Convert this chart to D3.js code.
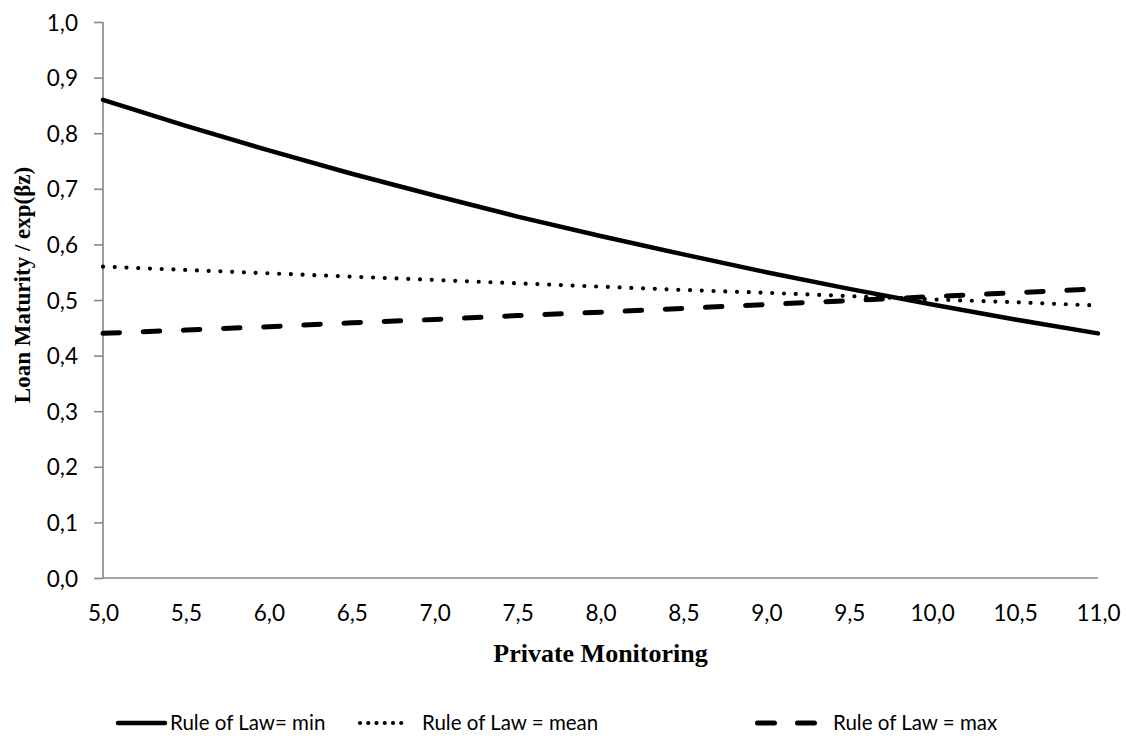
<!DOCTYPE html>
<html>
<head>
<meta charset="utf-8">
<script src="https://cdn.jsdelivr.net/npm/d3@7"></script>
<style>
  html, body { margin: 0; padding: 0; background: #fff; }
  svg { display: block; }
</style>
</head>
<body>
<svg id="chart" width="1126" height="736"></svg>
<script>
// ---- data ----
const xValues = [5.0, 5.5, 6.0, 6.5, 7.0, 7.5, 8.0, 8.5, 9.0, 9.5, 10.0, 10.5, 11.0];
const ruleMin  = [0.860, 0.813, 0.769, 0.727, 0.688, 0.650, 0.615, 0.582, 0.550, 0.520, 0.492, 0.465, 0.440];
const ruleMean = [0.560, 0.554, 0.548, 0.542, 0.536, 0.530, 0.524, 0.518, 0.513, 0.507, 0.501, 0.496, 0.490];
const ruleMax  = [0.440, 0.446, 0.452, 0.459, 0.465, 0.472, 0.478, 0.485, 0.492, 0.499, 0.506, 0.513, 0.520];
const seriesNames = ["Rule of Law= min", "Rule of Law = mean", "Rule of Law = max"];
const xTicks = [5.0, 5.5, 6.0, 6.5, 7.0, 7.5, 8.0, 8.5, 9.0, 9.5, 10.0, 10.5, 11.0];
const yTicks = [0.0, 0.1, 0.2, 0.3, 0.4, 0.5, 0.6, 0.7, 0.8, 0.9, 1.0];
const xTitle = "Private Monitoring";
const yTitle = "Loan Maturity / exp(βz)";

// ---- layout ----
const plot = { left: 103, right: 1098, top: 22, bottom: 578 };
const svg = d3.select("#chart");
const x = d3.scaleLinear().domain([5, 11]).range([plot.left, plot.right]);
const y = d3.scaleLinear().domain([0, 1]).range([plot.bottom, plot.top]);
const fmt = v => d3.format(".1f")(v).replace(".", ",");
const axisColor = "#868686";
const tickFont = "Lato, 'Open Sans', sans-serif";

// y axis
const yAxis = svg.append("g").attr("transform", `translate(${plot.left},0)`)
  .call(d3.axisLeft(y).tickValues(yTicks).tickFormat(fmt).tickSize(9).tickPadding(16));
yAxis.select(".domain").attr("stroke", axisColor).attr("stroke-width", 1.6)
  .attr("d", `M0,${plot.bottom}V${plot.top}`);
yAxis.selectAll(".tick line").attr("stroke", axisColor).attr("stroke-width", 1.6);
yAxis.selectAll(".tick text").attr("font-family", tickFont).attr("font-size", 22.5)
  .attr("fill", "#000").attr("dy", "0.36em");

// x axis
const xAxis = svg.append("g").attr("transform", `translate(0,${plot.bottom})`)
  .call(d3.axisBottom(x).tickValues(xTicks).tickFormat(fmt).tickSize(0).tickPadding(0));
xAxis.select(".domain").attr("stroke", axisColor).attr("stroke-width", 1.6)
  .attr("d", `M${plot.left},0H${plot.right}`);
xAxis.selectAll(".tick text").attr("font-family", tickFont).attr("font-size", 22.5)
  .attr("fill", "#000").attr("dy", null).attr("y", 43);

// axis titles
svg.append("text").attr("x", (plot.left + plot.right) / 2).attr("y", 662)
  .attr("text-anchor", "middle").attr("font-family", "'Liberation Serif', 'Times New Roman', serif")
  .attr("font-weight", "bold").attr("font-size", 26).text(xTitle);
svg.append("text").attr("transform", "translate(30,285) rotate(-90)")
  .attr("text-anchor", "middle").attr("font-family", "'Liberation Serif', 'Times New Roman', serif")
  .attr("font-weight", "bold").attr("font-size", 23).text(yTitle);

// series
const styles = [
  { width: 4.5, dash: null },
  { width: 4.2, dash: "0 11.75" },
  { width: 5, dash: "16.5 23.7" }
];
const seriesData = [ruleMin, ruleMean, ruleMax];
const line = d3.line().x(d => x(d[0])).y(d => y(d[1]));
[2, 1, 0].forEach(i => {
  const pts = xValues.map((xv, j) => [xv, seriesData[i][j]]);
  svg.append("path").datum(pts).attr("d", line)
    .attr("fill", "none").attr("stroke", "#000")
    .attr("stroke-width", styles[i].width)
    .attr("stroke-linecap", "round").attr("stroke-linejoin", "round")
    .attr("stroke-dasharray", styles[i].dash);
});

// legend
const legendY = 723;
const legendItems = [
  { x1: 118, x2: 165, tx: 170, dash: null, w: 4.5 },
  { x1: 360, x2: 409.5, tx: 422, dash: "0 8.25", w: 4.2 },
  { x1: 757.5, x2: 814.5, tx: 833, dash: "17 23", w: 5 }
];
legendItems.forEach((it, i) => {
  svg.append("line").attr("x1", it.x1).attr("x2", it.x2)
    .attr("y1", legendY).attr("y2", legendY)
    .attr("stroke", "#000").attr("stroke-width", it.w)
    .attr("stroke-linecap", "round").attr("stroke-dasharray", it.dash);
  svg.append("text").attr("x", it.tx).attr("y", legendY + 7)
    .attr("font-family", tickFont).attr("font-size", 20.5).text(seriesNames[i]);
});
</script>
</body>
</html>
